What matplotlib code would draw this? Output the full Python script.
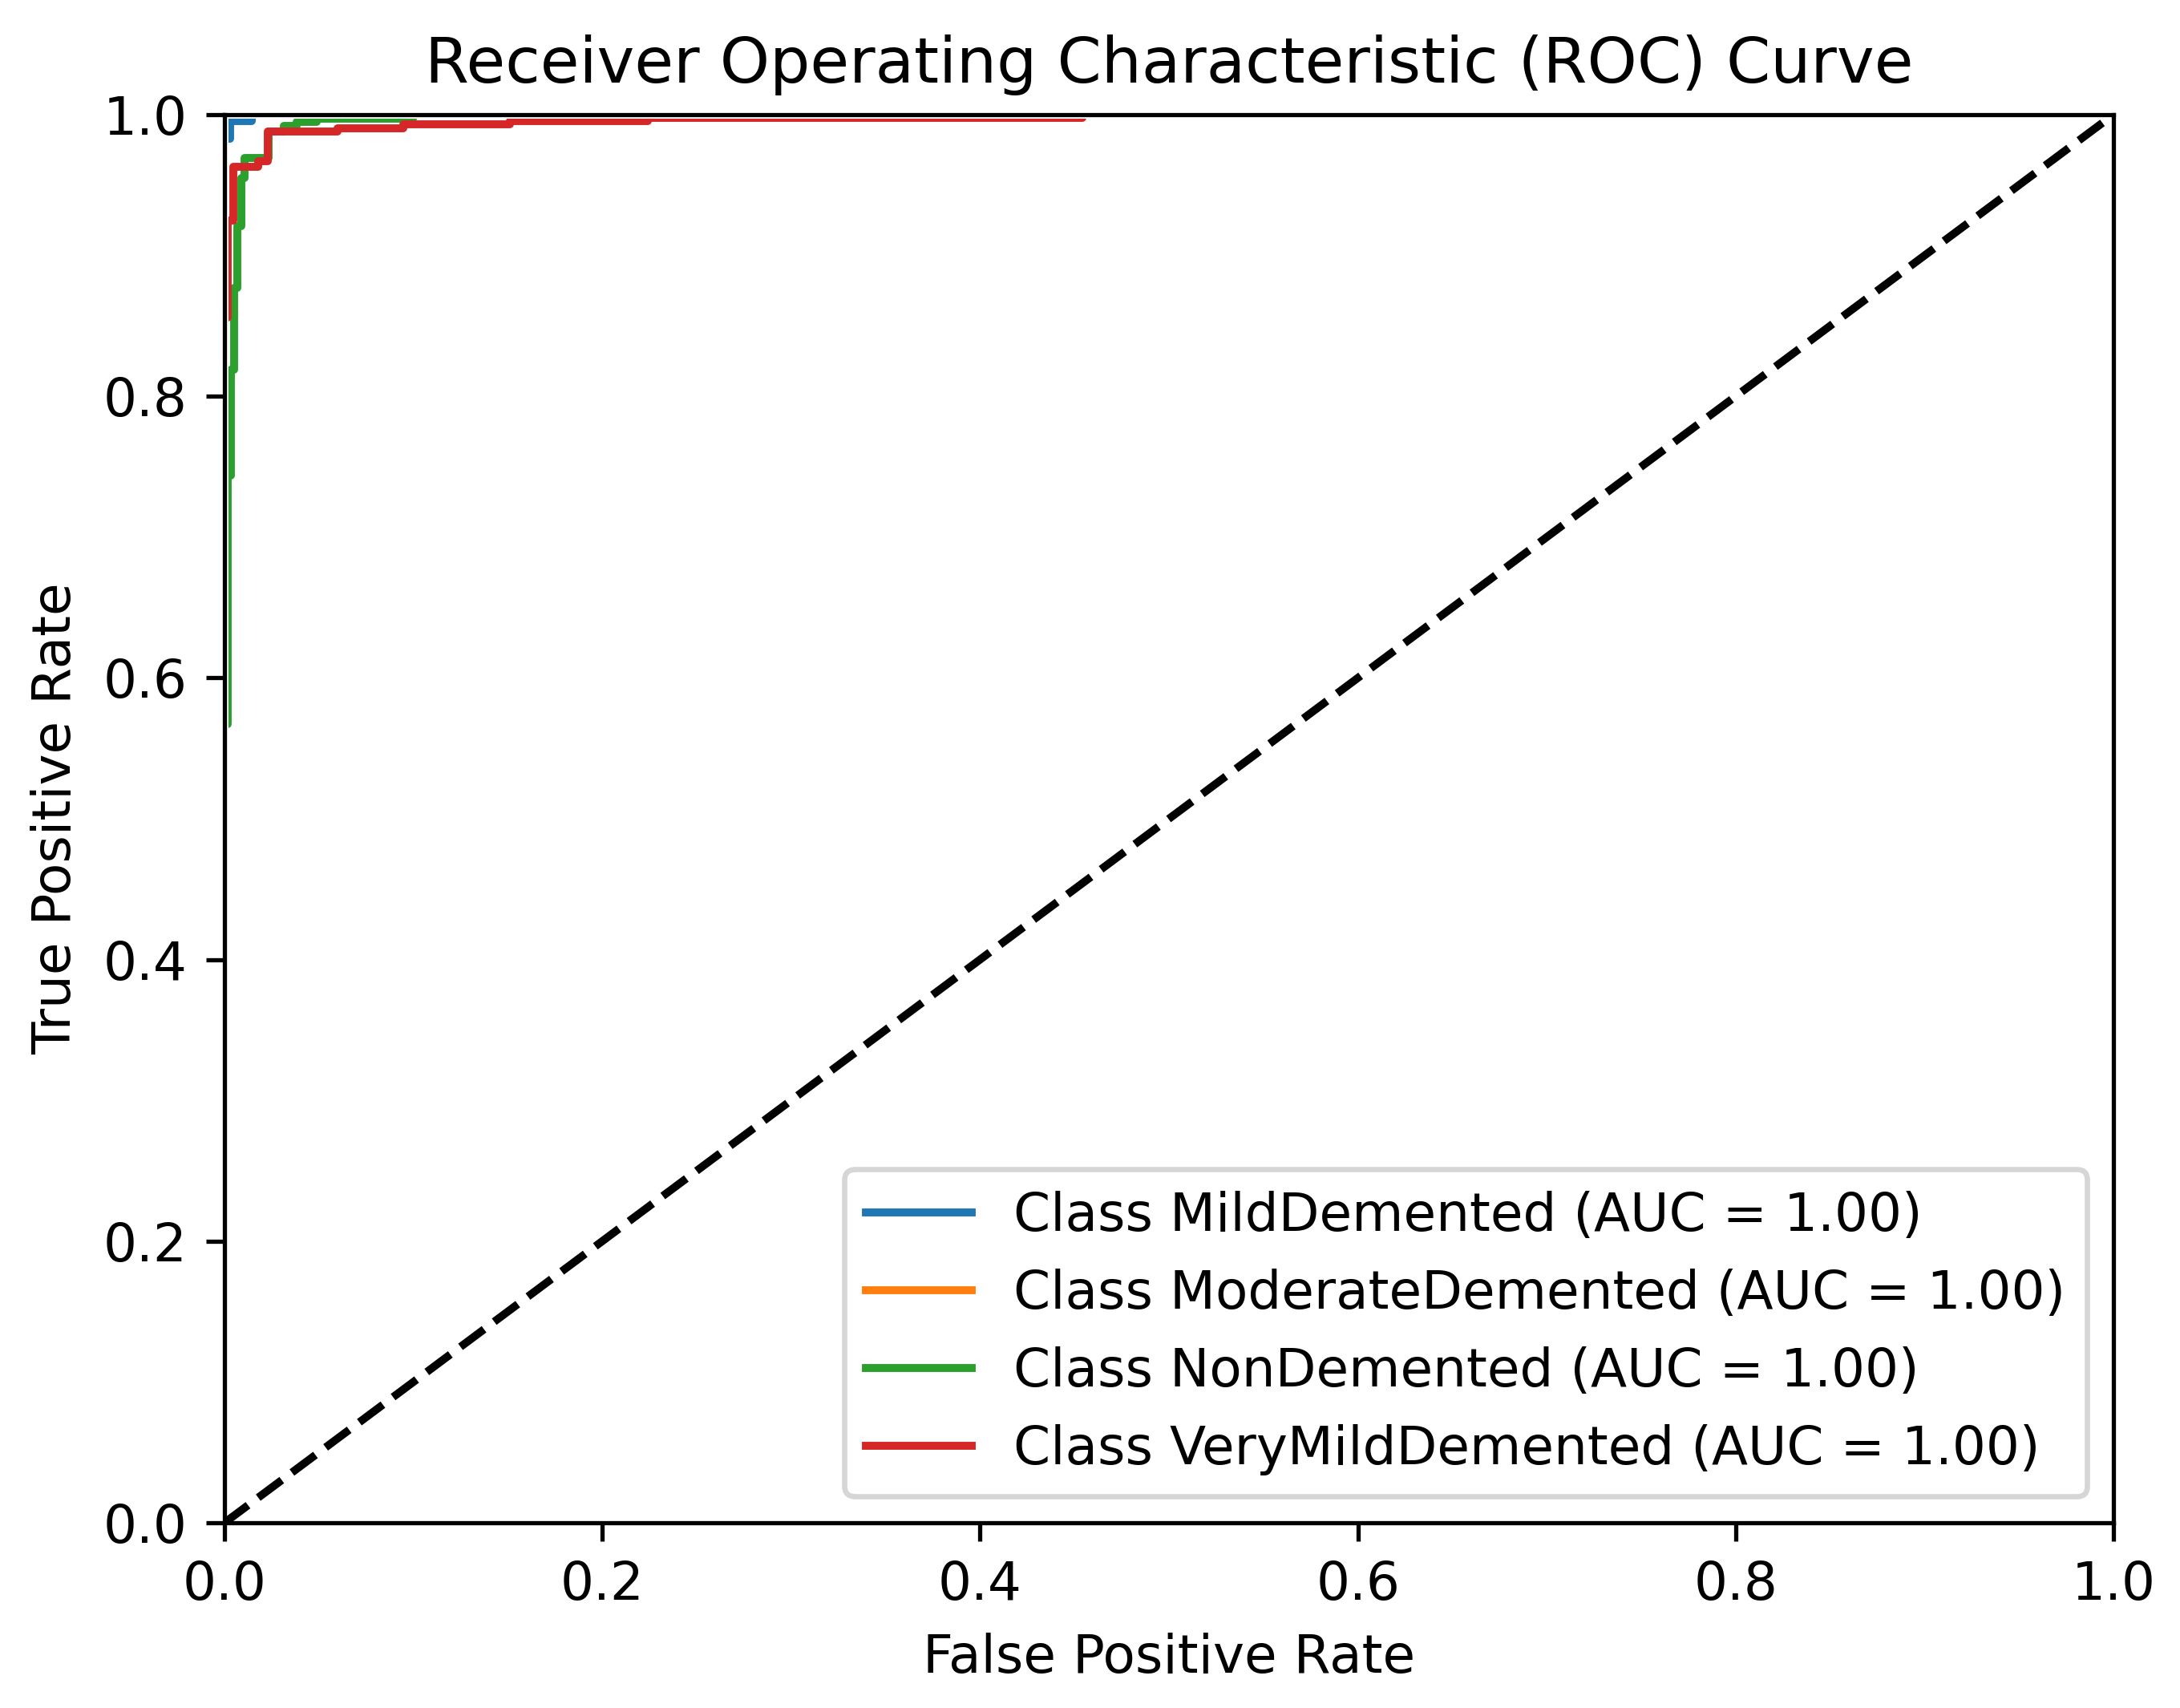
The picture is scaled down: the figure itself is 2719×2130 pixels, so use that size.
import matplotlib
matplotlib.use("Agg")
import matplotlib.pyplot as plt
from matplotlib.patches import Rectangle

class_names = ["MildDemented", "ModerateDemented", "NonDemented", "VeryMildDemented"]
auc_values = [1.00, 1.00, 1.00, 1.00]

fpr_mild = [0.0, 0.0, 0.0028, 0.0028, 0.0146, 0.0146, 1.0]
tpr_mild = [0.0, 0.983, 0.983, 0.9955, 0.9955, 1.0, 1.0]

fpr_moderate = [0.0, 0.0, 1.0]
tpr_moderate = [0.0, 1.0, 1.0]

fpr_non = [0.0, 0.0, 0.0019, 0.0019, 0.0032, 0.0032, 0.0050, 0.0050, 0.0069, 0.0069,
           0.0088, 0.0088, 0.0108, 0.0108, 0.0235, 0.0235, 0.0316, 0.0316, 0.038, 0.038,
           0.049, 0.049, 0.0996, 0.0996, 1.0]
tpr_non = [0.0, 0.567, 0.567, 0.744, 0.744, 0.819, 0.819, 0.877, 0.877, 0.921,
           0.921, 0.955, 0.955, 0.969, 0.969, 0.988, 0.988, 0.992, 0.992, 0.995,
           0.995, 0.997, 0.997, 1.0, 1.0]

fpr_vmild = [0.0, 0.0, 0.0019, 0.0019, 0.0047, 0.0047, 0.018, 0.018, 0.023, 0.023,
             0.060, 0.060, 0.0946, 0.0946, 0.151, 0.151, 0.224, 0.224, 0.454, 0.454, 1.0]
tpr_vmild = [0.0, 0.856, 0.856, 0.925, 0.925, 0.963, 0.963, 0.967, 0.967, 0.988,
             0.988, 0.9905, 0.9905, 0.9931, 0.9931, 0.9955, 0.9955, 0.9975, 0.9975, 1.0, 1.0]

curves = [(fpr_mild, tpr_mild), (fpr_moderate, tpr_moderate),
          (fpr_non, tpr_non), (fpr_vmild, tpr_vmild)]

dpi = 475
fig = plt.figure(figsize=(2719 / dpi, 2130 / dpi), dpi=dpi)
ax_w_px, ax_h_px = 2356, 1756
ax = fig.add_axes([280 / 2719, (2130 - 1899) / 2130, ax_w_px / 2719, ax_h_px / 2130])

# lines lying exactly on the spines are hidden beneath them in the reference
dx = 5.0 / ax_w_px
dy = 5.0 / ax_h_px
clip_rect = Rectangle((dx, 0), 1 - 2 * dx, 1 - dy, transform=ax.transAxes,
                      facecolor="none", edgecolor="none")
ax.add_patch(clip_rect)

for name, auc, (f, t) in zip(class_names, auc_values, curves):
    line, = ax.plot(f, t, lw=1.5, label=f"Class {name} (AUC = {auc:.2f})")
    line.set_clip_path(clip_rect)

ax.plot([0, 1], [0, 1], "k--", lw=1.5)
ax.set_xlim(0.0, 1.0)
ax.set_ylim(0.0, 1.0)
ax.set_xlabel("False Positive Rate")
ax.set_ylabel("True Positive Rate")
ax.set_title("Receiver Operating Characteristic (ROC) Curve")
ax.legend(loc="lower right")

fig.savefig("out.png", dpi=dpi)
